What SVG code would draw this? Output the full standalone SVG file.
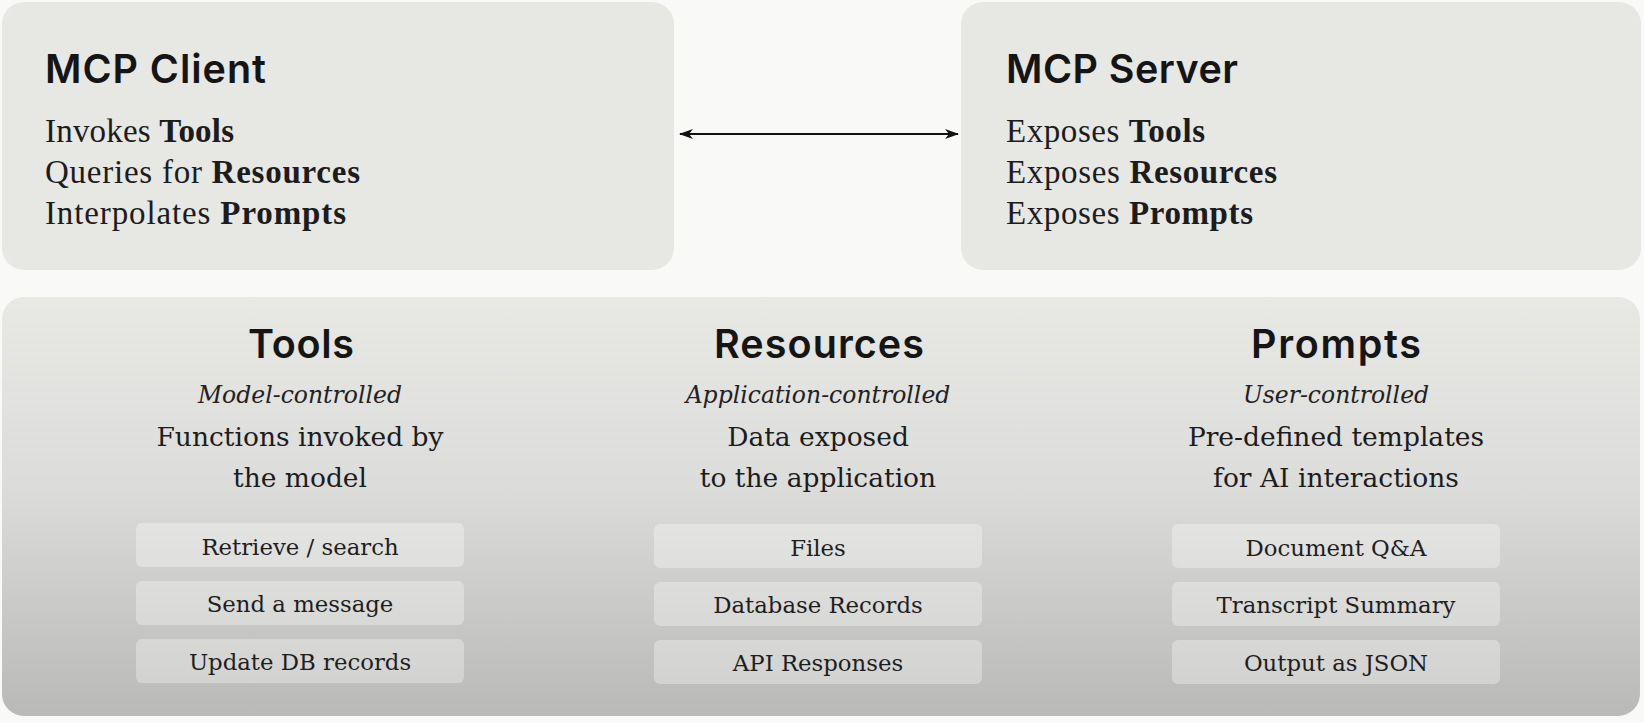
<svg xmlns="http://www.w3.org/2000/svg" width="1644" height="723" viewBox="0 0 1644 723">
<style>
.box{fill:#e7e7e4;}
.title{font-family:Inter,"Noto Sans",sans-serif;font-weight:600;font-size:39.5px;fill:#151515;}
.body{font-family:"Liberation Serif",serif;font-size:33px;fill:#1c1c1c;}
.body tspan.b{font-weight:bold;}
.ctitle{font-family:Inter,"Noto Sans",sans-serif;font-weight:600;font-size:39.5px;fill:#151515;text-anchor:middle;}
.ital{font-family:"DejaVu Serif",serif;font-style:italic;font-size:23.5px;fill:#222;text-anchor:middle;}
.desc{font-family:"DejaVu Serif",serif;font-size:26.5px;fill:#1c1c1c;text-anchor:middle;}
.pill{fill:#ffffff;fill-opacity:0.32;}
.ptext{font-family:"DejaVu Serif",serif;font-size:22.8px;fill:#1e1e1e;text-anchor:middle;}
.conn{stroke:#111;stroke-width:2;fill:none;}
</style>
<defs>
<linearGradient id="g" x1="0" y1="0" x2="0" y2="1">
<stop offset="0" stop-color="#e8e8e5"/>
<stop offset="0.45" stop-color="#dcdcda"/>
<stop offset="1" stop-color="#b9b9b7"/>
</linearGradient>
<marker id="ah" viewBox="0 0 14 10" refX="13" refY="5" markerWidth="14" markerHeight="10" markerUnits="userSpaceOnUse" orient="auto-start-reverse">
<path d="M0,0 L14,5 L0,10 L4,5 z" fill="#111"/>
</marker>
</defs>
<rect width="1644" height="723" fill="#f9f9f7"/>

<g id="mcp-client">
<rect class="box" x="2" y="2" width="672" height="268" rx="22"/>
<text class="title" x="45" y="83" textLength="221" lengthAdjust="spacing">MCP Client</text>
<text class="body" x="45" y="142" textLength="189" lengthAdjust="spacing">Invokes <tspan class="b">Tools</tspan></text>
<text class="body" x="45" y="183" textLength="315" lengthAdjust="spacing">Queries for <tspan class="b">Resources</tspan></text>
<text class="body" x="45" y="224" textLength="301" lengthAdjust="spacing">Interpolates <tspan class="b">Prompts</tspan></text>
</g>

<g id="mcp-server">
<rect class="box" x="961" y="2" width="680" height="268" rx="22"/>
<text class="title" x="1006" y="83" textLength="232" lengthAdjust="spacing">MCP Server</text>
<text class="body" x="1006" y="142" textLength="199" lengthAdjust="spacing">Exposes <tspan class="b">Tools</tspan></text>
<text class="body" x="1006" y="183" textLength="271" lengthAdjust="spacing">Exposes <tspan class="b">Resources</tspan></text>
<text class="body" x="1006" y="224" textLength="247" lengthAdjust="spacing">Exposes <tspan class="b">Prompts</tspan></text>
</g>

<g id="connectors">
<line class="conn" x1="680" y1="134" x2="958" y2="134" marker-start="url(#ah)" marker-end="url(#ah)"/>
</g>

<g id="primitives">
<rect x="2" y="297" width="1638" height="419" rx="22" fill="url(#g)"/>
</g>

<g id="tools">
<text class="ctitle" x="301" y="358" textLength="106" lengthAdjust="spacing">Tools</text>
<text class="ital" x="300" y="403">Model-controlled</text>
<text class="desc" x="300" y="446">Functions invoked by</text>
<text class="desc" x="300" y="487">the model</text>
<rect class="pill" x="136" y="523" width="328" height="44" rx="6"/>
<text class="ptext" x="300" y="555">Retrieve / search</text>
<rect class="pill" x="136" y="581" width="328" height="44" rx="6"/>
<text class="ptext" x="300" y="612">Send a message</text>
<rect class="pill" x="136" y="639" width="328" height="44" rx="6"/>
<text class="ptext" x="300" y="670">Update DB records</text>
</g>

<g id="resources">
<text class="ctitle" x="819" y="358" textLength="210" lengthAdjust="spacing">Resources</text>
<text class="ital" x="818" y="403">Application-controlled</text>
<text class="desc" x="818" y="446">Data exposed</text>
<text class="desc" x="818" y="487">to the application</text>
<rect class="pill" x="654" y="524" width="328" height="44" rx="6"/>
<text class="ptext" x="818" y="556">Files</text>
<rect class="pill" x="654" y="582" width="328" height="44" rx="6"/>
<text class="ptext" x="818" y="613">Database Records</text>
<rect class="pill" x="654" y="640" width="328" height="44" rx="6"/>
<text class="ptext" x="818" y="671">API Responses</text>
</g>

<g id="prompts">
<text class="ctitle" x="1336" y="358" textLength="170" lengthAdjust="spacing">Prompts</text>
<text class="ital" x="1336" y="403">User-controlled</text>
<text class="desc" x="1336" y="446">Pre-defined templates</text>
<text class="desc" x="1336" y="487">for AI interactions</text>
<rect class="pill" x="1172" y="524" width="328" height="44" rx="6"/>
<text class="ptext" x="1336" y="556">Document Q&amp;A</text>
<rect class="pill" x="1172" y="582" width="328" height="44" rx="6"/>
<text class="ptext" x="1336" y="613">Transcript Summary</text>
<rect class="pill" x="1172" y="640" width="328" height="44" rx="6"/>
<text class="ptext" x="1336" y="671">Output as JSON</text>
</g>
</svg>
